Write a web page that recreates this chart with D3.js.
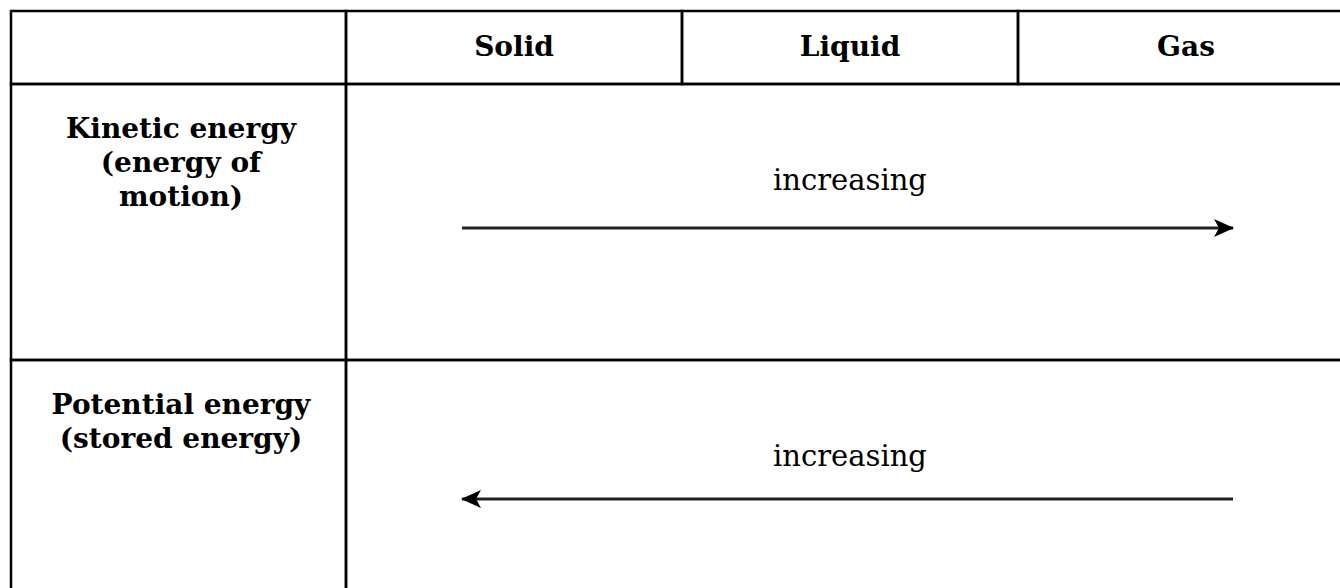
<!DOCTYPE html>
<html>
<head>
<meta charset="utf-8">
<script src="https://cdn.jsdelivr.net/npm/d3@7"></script>
<style>
  html, body { margin: 0; padding: 0; background: #fff; }
  svg { display: block; }
</style>
</head>
<body>
<div id="chart"></div>
<script>
// table content
var phases = ['Solid', 'Liquid', 'Gas'];
var rowNames = ['Kinetic energy', 'Potential energy'];
var rowLabels = [
  ['Kinetic energy', '(energy of', 'motion)'],
  ['Potential energy', '(stored energy)']
];
var rowTrend = ['increasing', 'increasing'];
// arrow goes from -> to
var arrowFrom = ['Solid', 'Gas'];
var arrowTo = ['Gas', 'Solid'];

var width = 1340, height = 588;

var svg = d3.select('#chart')
  .append('svg')
  .attr('width', width)
  .attr('height', height);

var tLeft = 11, tTop = 11, labelRight = 346, tRight = 1354, headBottom = 84;

var x = d3.scaleBand()
  .domain(phases)
  .range([labelRight, tRight]);

var y = d3.scaleBand()
  .domain(rowNames)
  .range([headBottom, 636]);

// arrow ends sit inside the outer phase columns
var xArrow = d3.scalePoint()
  .domain(phases)
  .range([462, 1233]);

svg.append('defs').append('marker')
  .attr('id', 'head')
  .attr('viewBox', '0 0 20 20')
  .attr('refX', 19)
  .attr('refY', 10)
  .attr('markerWidth', 20)
  .attr('markerHeight', 20)
  .attr('markerUnits', 'userSpaceOnUse')
  .attr('orient', 'auto')
  .append('path')
  .attr('d', 'M0,1 L20,10 L0,19 L5,10 Z')
  .attr('fill', '#000');

var grid = svg.append('g')
  .attr('fill', 'none')
  .attr('stroke', '#000')
  .attr('stroke-width', 2.5);

// header cells
grid.append('rect')
  .attr('x', tLeft).attr('y', tTop)
  .attr('width', labelRight - tLeft).attr('height', headBottom - tTop);

grid.selectAll('rect.head')
  .data(phases)
  .enter()
  .append('rect')
  .attr('class', 'head')
  .attr('x', function (d) { return x(d); })
  .attr('y', tTop)
  .attr('width', x.bandwidth())
  .attr('height', headBottom - tTop);

// body rows: label cell + one merged cell
grid.selectAll('rect.label')
  .data(rowNames)
  .enter()
  .append('rect')
  .attr('class', 'label')
  .attr('x', tLeft)
  .attr('y', function (d) { return y(d); })
  .attr('width', labelRight - tLeft)
  .attr('height', y.bandwidth());

grid.selectAll('rect.body')
  .data(rowNames)
  .enter()
  .append('rect')
  .attr('class', 'body')
  .attr('x', labelRight)
  .attr('y', function (d) { return y(d); })
  .attr('width', tRight - labelRight)
  .attr('height', y.bandwidth());

svg.selectAll('text.phase')
  .data(phases)
  .enter()
  .append('text')
  .attr('class', 'phase')
  .attr('x', function (d) { return x(d) + x.bandwidth() / 2; })
  .attr('y', 56)
  .attr('text-anchor', 'middle')
  .style('font-family', '"DejaVu Serif", serif')
  .style('font-weight', 'bold')
  .style('font-size', '28px')
  .text(function (d) { return d; });

var rows = svg.selectAll('g.row')
  .data(rowNames)
  .enter()
  .append('g')
  .attr('class', 'row')
  .attr('transform', function (d) { return 'translate(0,' + y(d) + ')'; });

rows.append('text')
  .attr('text-anchor', 'middle')
  .style('font-family', '"DejaVu Serif", serif')
  .style('font-weight', 'bold')
  .style('font-size', '28px')
  .selectAll('tspan')
  .data(function (d, i) { return rowLabels[i]; })
  .enter()
  .append('tspan')
  .attr('x', 181)
  .attr('y', function (d, i) { return 54 + i * 34; })
  .text(function (d) { return d; });

rows.append('text')
  .attr('x', x('Liquid') + x.bandwidth() / 2)
  .attr('y', 106)
  .attr('text-anchor', 'middle')
  .style('font-family', '"DejaVu Serif", serif')
  .style('font-size', '29px')
  .text(function (d, i) { return rowTrend[i]; });

rows.append('line')
  .attr('x1', function (d, i) { return xArrow(arrowFrom[i]); })
  .attr('x2', function (d, i) { return xArrow(arrowTo[i]); })
  .attr('y1', function (d, i) { return i === 0 ? 144 : 139; })
  .attr('y2', function (d, i) { return i === 0 ? 144 : 139; })
  .attr('stroke', '#222')
  .attr('stroke-width', 3)
  .attr('marker-end', 'url(#head)');
</script>
</body>
</html>
